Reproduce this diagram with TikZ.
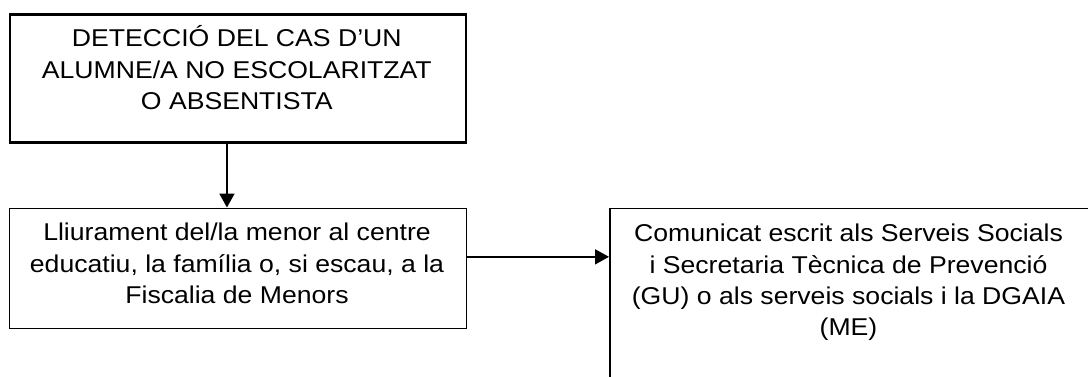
\documentclass[tikz,border=0pt]{standalone}
\usepackage{fontspec}
\usepackage{graphicx}
\setmainfont{Liberation Sans}
\usetikzlibrary{arrows.meta}
\newcommand{\bxtxt}[2]{\scalebox{1.095}[1]{\parbox[t]{#1}{\centering\fontsize{24.3}{31.3}\selectfont #2}}}
\tikzset{
  boxthick/.style={draw=black, line width=2.7pt, inner sep=0pt, rectangle},
  boxthin/.style={draw=black, line width=1.7pt, inner sep=0pt, rectangle},
  boxtext/.style={inner sep=0pt, anchor=base, text=black},
  conn/.style={draw=black, line width=1.8pt, -{Triangle[width=15pt,length=14pt]}}
}
\begin{document}
\begin{tikzpicture}[x=1pt,y=-1pt]
\useasboundingbox (0,0) rectangle (1088,376);
\clip (0,0) rectangle (1088,376);
\fill[white] (0,0) rectangle (1088,376);
% boxes
\node[boxthick, minimum width=456pt, minimum height=127.7pt, anchor=north west] (top) at (8.6,13.3) {};
\node[boxthin, minimum width=457pt, minimum height=120pt, anchor=north west] (lliur) at (8.5,207.5) {};
\node[boxthin, minimum width=500pt, minimum height=190pt, anchor=north west] (comu) at (609,207.5) {};
% texts
\node[boxtext] (toptxt) at (236.8,46.7) {\bxtxt{400pt}{DETECCIÓ DEL CAS D’UN\\ALUMNE/A NO ESCOLARITZAT\\O ABSENTISTA}};
\node[boxtext] (lliurtxt) at (237,240.7) {\bxtxt{400pt}{Lliurament del/la menor al centre\\educatiu, la família o, si escau, a la\\Fiscalia de Menors}};
\node[boxtext] (comutxt) at (848.5,241.7) {\bxtxt{420pt}{Comunicat escrit als Serveis Socials\\i Secretaria Tècnica de Prevenció\\(GU) o als serveis socials i la DGAIA\\(ME)}};
% connectors
\draw[conn] ([xshift=-11pt]top.south) -- ([xshift=-11pt]top.south |- lliur.north);
\draw[conn] ([yshift=11.5pt]lliur.east) -- ([yshift=11.5pt]lliur.east -| comu.west);
\end{tikzpicture}
\end{document}
